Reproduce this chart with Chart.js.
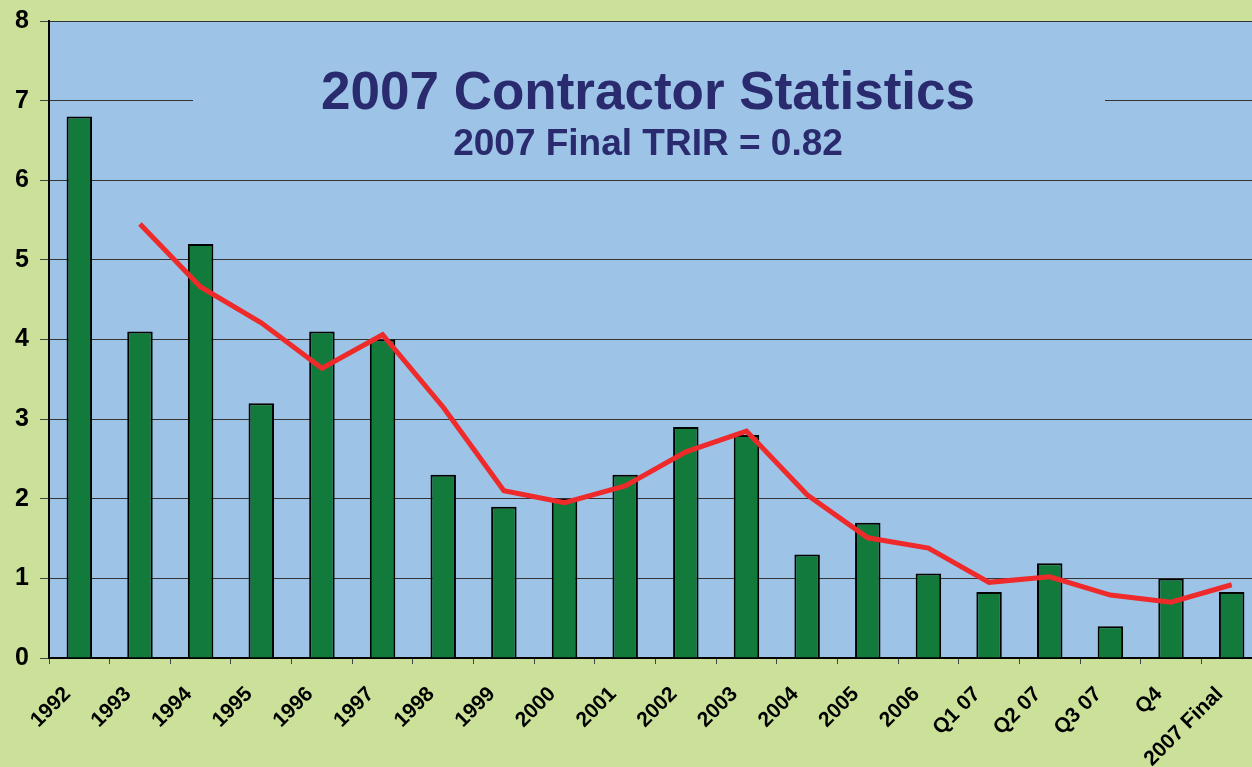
<!DOCTYPE html>
<html>
<head>
<meta charset="utf-8">
<script src="https://cdn.jsdelivr.net/npm/chart.js@4"></script>
<style>
  html, body { margin: 0; padding: 0; background: #cbe099; overflow: hidden; }
  #wrap { width: 1252px; height: 767px; overflow: hidden; }
</style>
</head>
<body>
<div id="wrap"><canvas id="chart" width="1262" height="767"></canvas></div>
<script>
// ================== Dados ==================
const categories = ["1992", "1993", "1994", "1995", "1996", "1997", "1998", "1999", "2000", "2001",
  "2002", "2003", "2004", "2005", "2006", "Q1 07", "Q2 07", "Q3 07", "Q4", "2007 Final"];

const trirValues = [6.8, 4.1, 5.2, 3.2, 4.1, 4.0, 2.3, 1.9, 2.0, 2.3,
  2.9, 2.8, 1.3, 1.7, 1.06, 0.83, 1.19, 0.4, 1.0, 0.83];

// linha de tendência (começa em 1993)
const trendValues = [null, 5.45, 4.66, 4.21, 3.64, 4.06, 3.15, 2.10, 1.95, 2.16,
  2.59, 2.85, 2.05, 1.51, 1.38, 0.95, 1.02, 0.79, 0.70, 0.92];

const yTicks = [0, 1, 2, 3, 4, 5, 6, 7, 8];

const titleText = "2007 Contractor Statistics";
const subtitleText = "2007 Final TRIR = 0.82";

// ================== Cores ==================
const PLOT_BG = "#9dc3e7";
const OUTER_BG = "#cbe099";
const BAR_GREEN = "#127b3c";
const LINE_RED = "#ee2a2a";
const TITLE_NAVY = "#2a2a6e";

// fundo da área do gráfico + caixa do título
const backgroundPlugin = {
  id: "plotBackground",
  beforeDraw(chart) {
    const { ctx, chartArea } = chart;
    ctx.save();
    ctx.fillStyle = OUTER_BG;
    ctx.fillRect(0, 0, chart.width, chart.height);
    ctx.fillStyle = PLOT_BG;
    ctx.fillRect(chartArea.left, chartArea.top, chartArea.right - chartArea.left, chartArea.bottom - chartArea.top);
    ctx.restore();
  },
  beforeDatasetsDraw(chart) {
    const { ctx } = chart;
    const cx = 648;
    ctx.save();
    // caixa que esconde a linha de grade atrás do título
    ctx.fillStyle = PLOT_BG;
    ctx.fillRect(193, 45, 1105 - 193, 120);
    ctx.fillStyle = TITLE_NAVY;
    ctx.textAlign = "center";
    ctx.textBaseline = "alphabetic";
    ctx.font = "bold 53px 'Liberation Sans', Arial, sans-serif";
    ctx.fillText(titleText, cx, 109);
    ctx.font = "bold 37px 'Liberation Sans', Arial, sans-serif";
    ctx.fillText(subtitleText, cx, 155);
    ctx.restore();
  },
};

const ctx = document.getElementById("chart").getContext("2d");

new Chart(ctx, {
  type: "bar",
  data: {
    labels: categories,
    datasets: [
      {
        type: "line",
        label: "Tendência",
        data: trendValues,
        borderColor: LINE_RED,
        borderWidth: 5,
        pointRadius: 0,
        tension: 0,
        fill: false,
        order: 0,
      },
      {
        type: "bar",
        label: "TRIR",
        data: trirValues,
        backgroundColor: BAR_GREEN,
        borderColor: "#000",
        borderWidth: 2,
        categoryPercentage: 1,
        barPercentage: 0.42,
        order: 1,
      },
    ],
  },
  options: {
    responsive: false,
    animation: false,
    layout: { padding: { top: 21, right: 0, left: 0, bottom: 0 } },
    plugins: {
      legend: { display: false },
      tooltip: { enabled: false },
    },
    scales: {
      x: {
        grid: {
          drawOnChartArea: false,
          drawTicks: true,
          tickLength: 6,
          tickColor: "#444",
          offset: true,
        },
        border: { display: true, color: "#000", width: 2 },
        ticks: {
          color: "#000",
          maxRotation: 45,
          minRotation: 45,
          autoSkip: false,
          padding: 18,
          labelOffset: -12,
          font: { family: "'Liberation Sans', Arial, sans-serif", size: 21, weight: "bold" },
        },
        afterFit(scale) {
          scale.height = 109;
          scale.paddingLeft = 0;
          scale.paddingRight = 0;
        },
      },
      y: {
        min: 0,
        max: 8,
        afterBuildTicks(scale) { scale.ticks = yTicks.map((v) => ({ value: v })); },
        grid: {
          color: "#333",
          lineWidth: 1,
          tickLength: 9,
          tickColor: "#444",
        },
        border: { display: true, color: "#000", width: 2 },
        ticks: {
          color: "#000",
          padding: 11,
          font: { family: "'Liberation Sans', Arial, sans-serif", size: 25, weight: "bold" },
        },
        afterFit(scale) {
          scale.width = 49;
          scale.paddingTop = 0;
          scale.paddingBottom = 0;
        },
      },
    },
  },
  plugins: [backgroundPlugin],
});
</script>
</body>
</html>
